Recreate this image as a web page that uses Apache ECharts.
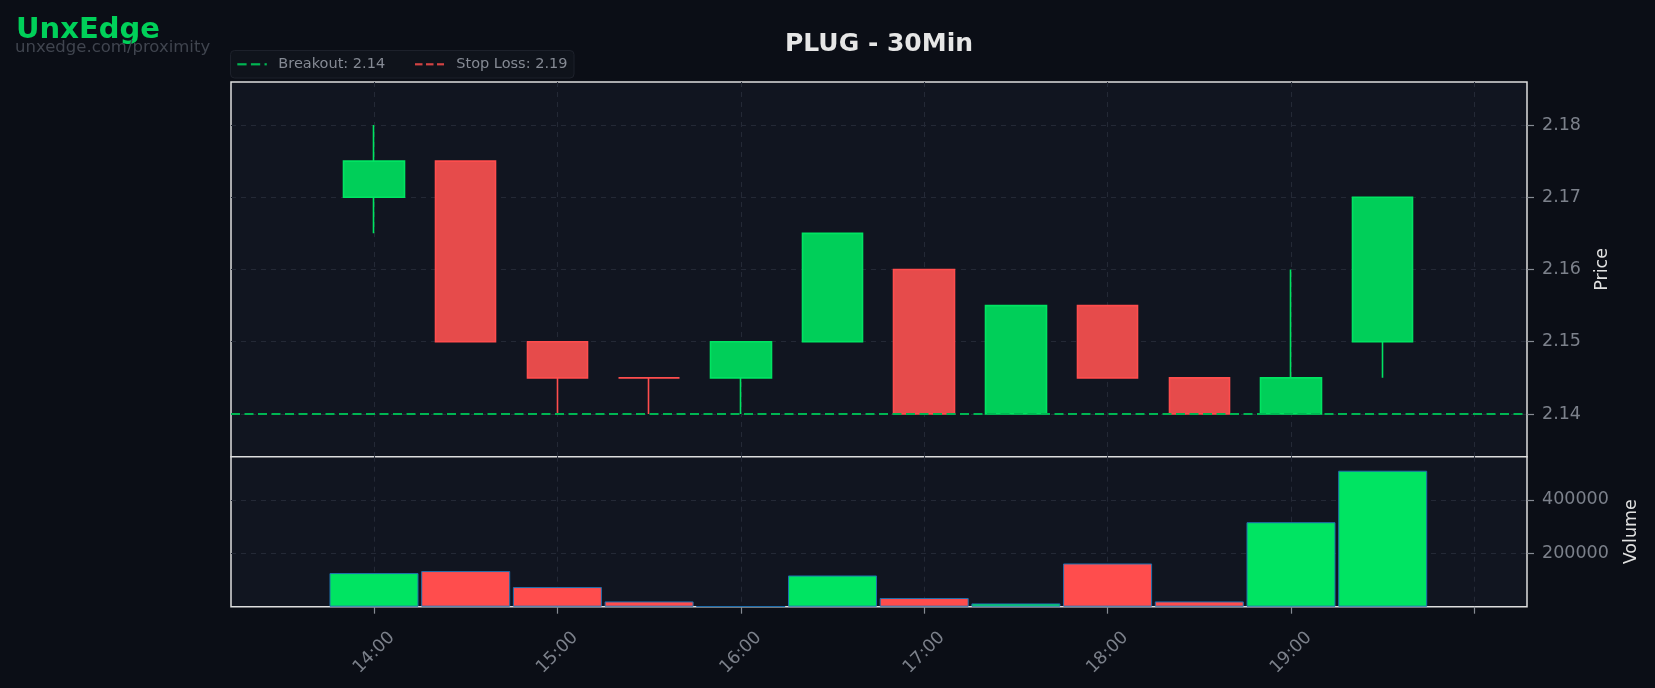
<!DOCTYPE html>
<html>
<head>
<meta charset="utf-8">
<script src="https://cdn.jsdelivr.net/npm/echarts@6/dist/echarts.min.js"></script>
<style>
html,body{margin:0;padding:0;background:#0b0e16;}
#chart{width:1655px;height:688px;}
</style>
</head>
<body>
<div id="chart"></div>
<script>
// ---- data ----
const times   = ["14:00","14:30","15:00","15:30","16:00","16:30","17:00","17:30","18:00","18:30","19:00","19:30"];
const opens   = [2.170, 2.175, 2.150, 2.145, 2.145, 2.150, 2.160, 2.140, 2.155, 2.145, 2.140, 2.150];
const closes  = [2.175, 2.150, 2.145, 2.145, 2.150, 2.165, 2.140, 2.155, 2.145, 2.140, 2.145, 2.170];
const lows    = [2.165, 2.150, 2.140, 2.140, 2.140, 2.150, 2.140, 2.140, 2.145, 2.140, 2.140, 2.145];
const highs   = [2.180, 2.175, 2.150, 2.145, 2.150, 2.165, 2.160, 2.155, 2.155, 2.145, 2.160, 2.170];
const volumes = [126000, 133500, 73600, 19800, 1500, 117000, 32500, 12300, 162000, 19800, 316600, 509500];
const breakout = 2.14;
const stopLoss = 2.19;
const priceTicks = [2.14, 2.15, 2.16, 2.17, 2.18];
const volumeTicks = [200000, 400000];
const hourTicks = [14, 15, 16, 17, 18, 19, 20];
const hourLabels = [14, 15, 16, 17, 18, 19];
const chartTitle = "PLUG - 30Min";
const brand = "UnxEdge";
const brandUrl = "unxedge.com/proximity";

// ---- styles ----
const FONT = "DejaVu Sans";
const GREEN_FILL = "#00cf59", GREEN_EDGE = "#00e462";
const RED_FILL = "#e64b4b", RED_EDGE = "#ff4d4d";
const VOL_GREEN = "#00e462", VOL_RED = "#ff4d4d";
const BREAK_COLOR = "#00b552", STOP_COLOR = "#d24343";
const X_MIN = 13.2203, X_MAX = 20.2868;
const GRID_LINE = {show:true, lineStyle:{color:"#242936", type:[5,5], width:1}};
const LABEL_COLOR = "#7c818b";
const TICK_FS = 17.5;

const toHour = t => { const [h,m] = t.split(":").map(Number); return h + m/60; };
const xs = times.map(toHour);

const candleData = xs.map((x,i) => {
  const item = {value:[x, opens[i], closes[i], lows[i], highs[i]]};
  if (closes[i] === opens[i]) {
    item.itemStyle = {color:RED_FILL, color0:RED_FILL, borderColor:RED_EDGE, borderColor0:RED_EDGE, borderColorDoji:RED_EDGE};
  }
  return item;
});
const volData = xs.map((x,i) => ({
  value:[x, volumes[i]],
  itemStyle:{color: closes[i] > opens[i] ? VOL_GREEN : VOL_RED}
}));

// legend drawn as graphic (box, dashed keys, labels)
const legendY = 64.3;
function dashes(x0, segs, color) {
  return segs.map(([a,b]) => ({type:"line", shape:{x1:x0+a, y1:legendY, x2:x0+b, y2:legendY},
    style:{stroke:color, lineWidth:2.2}, z:101}));
}
const legendGraphic = [
  {type:"rect", shape:{x:230.5, y:50.5, width:343.5, height:27.5, r:4},
    style:{fill:"#0f131b", stroke:"#1d212b", lineWidth:1}, z:100},
  ...dashes(237.3, [[0,9.3],[13.6,22.9],[27.2,29.5]], BREAK_COLOR),
  {type:"text", x:278.3, y:legendY, z:101, style:{text:"Breakout: " + breakout.toFixed(2), fill:"#858a94",
    font:"14.5px " + FONT, align:"left", verticalAlign:"middle"}},
  ...dashes(415, [[0,7.5],[11,18.5],[22,29]], STOP_COLOR),
  {type:"text", x:456.3, y:legendY, z:101, style:{text:"Stop Loss: " + stopLoss.toFixed(2), fill:"#858a94",
    font:"14.5px " + FONT, align:"left", verticalAlign:"middle"}}
];

const chart = echarts.init(document.getElementById("chart"), null, {renderer:"canvas"});
chart.setOption({
  backgroundColor:"#0b0e16",
  animation:false,
  textStyle:{fontFamily:FONT},
  graphic:[
    {type:"text", x:16, y:30, style:{text:brand, fill:"#00d059", font:"bold 29px " + FONT, align:"left", verticalAlign:"middle"}},
    {type:"text", x:15, y:47.5, style:{text:brandUrl, fill:"#40454f", font:"16.5px " + FONT, align:"left", verticalAlign:"middle"}},
    {type:"text", x:879, y:44.5, style:{text:chartTitle, fill:"#e6e6e6", font:"bold 25px " + FONT, align:"center", verticalAlign:"middle"}},
    ...legendGraphic
  ],
  grid:[
    {left:231, right:128, top:82, height:374.7, show:true, backgroundColor:"#111520", borderColor:"#dedede", borderWidth:1.5},
    {left:231, right:128, top:456.7, height:150, show:true, backgroundColor:"#111520", borderColor:"#dedede", borderWidth:1.5}
  ],
  xAxis:[
    {type:"value", gridIndex:0, min:X_MIN, max:X_MAX,
      axisLine:{show:false}, axisLabel:{show:false},
      axisTick:{show:false, customValues:hourTicks},
      splitLine:GRID_LINE},
    {type:"value", gridIndex:1, min:X_MIN, max:X_MAX,
      axisLine:{show:false},
      axisTick:{show:true, length:7, lineStyle:{color:"#868a93", width:1.2}, customValues:hourTicks},
      axisLabel:{show:true, customValues:hourLabels, rotate:45, align:"center", verticalAlign:"middle", margin:46,
        color:LABEL_COLOR, fontSize:TICK_FS, fontFamily:FONT, formatter:v => v + ":00"},
      splitLine:GRID_LINE}
  ],
  yAxis:[
    {type:"value", gridIndex:0, position:"right", min:2.13409, max:2.18595,
      name:"Price", nameLocation:"middle", nameRotate:90, nameGap:66,
      nameTextStyle:{color:"#e0e0e0", fontSize:TICK_FS, fontFamily:FONT},
      axisLine:{show:false},
      axisTick:{show:true, length:7, lineStyle:{color:"#868a93", width:1.2}, customValues:priceTicks},
      axisLabel:{show:true, customValues:priceTicks, margin:15, padding:[4,0,0,0], color:LABEL_COLOR, fontSize:TICK_FS, fontFamily:FONT, formatter:v => v.toFixed(2)},
      splitLine:GRID_LINE},
    {type:"value", gridIndex:1, position:"right", min:0, max:562000,
      name:"Volume", nameLocation:"middle", nameRotate:90, nameGap:95,
      nameTextStyle:{color:"#e0e0e0", fontSize:TICK_FS, fontFamily:FONT},
      axisLine:{show:false},
      axisTick:{show:true, length:7, lineStyle:{color:"#868a93", width:1.2}, customValues:volumeTicks},
      axisLabel:{show:true, customValues:volumeTicks, margin:15, padding:[4,0,0,0], color:LABEL_COLOR, fontSize:TICK_FS, fontFamily:FONT, formatter:v => String(Math.round(v))},
      splitLine:GRID_LINE}
  ],
  series:[
    {type:"candlestick", name:"PLUG", xAxisIndex:0, yAxisIndex:0, data:candleData,
      encode:{x:0, y:[1,2,3,4]}, barWidth:61,
      itemStyle:{color:GREEN_FILL, color0:RED_FILL, borderColor:GREEN_EDGE, borderColor0:RED_EDGE, borderWidth:1.6},
      emphasis:{disabled:true}, z:2},
    {type:"line", name:"Breakout: " + breakout.toFixed(2), xAxisIndex:0, yAxisIndex:0,
      data:[[X_MIN, breakout],[X_MAX, breakout]], symbol:"none",
      lineStyle:{color:BREAK_COLOR, width:2.2, type:[9,4.5]}, z:5, silent:true},
    {type:"line", name:"Stop Loss: " + stopLoss.toFixed(2), xAxisIndex:0, yAxisIndex:0,
      data:[[X_MIN, stopLoss],[X_MAX, stopLoss]], symbol:"none", clip:true,
      lineStyle:{color:STOP_COLOR, width:2.2, type:[9,4.5]}, z:5, silent:true},
    {type:"bar", name:"Volume", xAxisIndex:1, yAxisIndex:1, data:volData, barWidth:89,
      itemStyle:{borderColor:"#1f6fae", borderWidth:1}, emphasis:{disabled:true}}
  ]
});
</script>
</body>
</html>
